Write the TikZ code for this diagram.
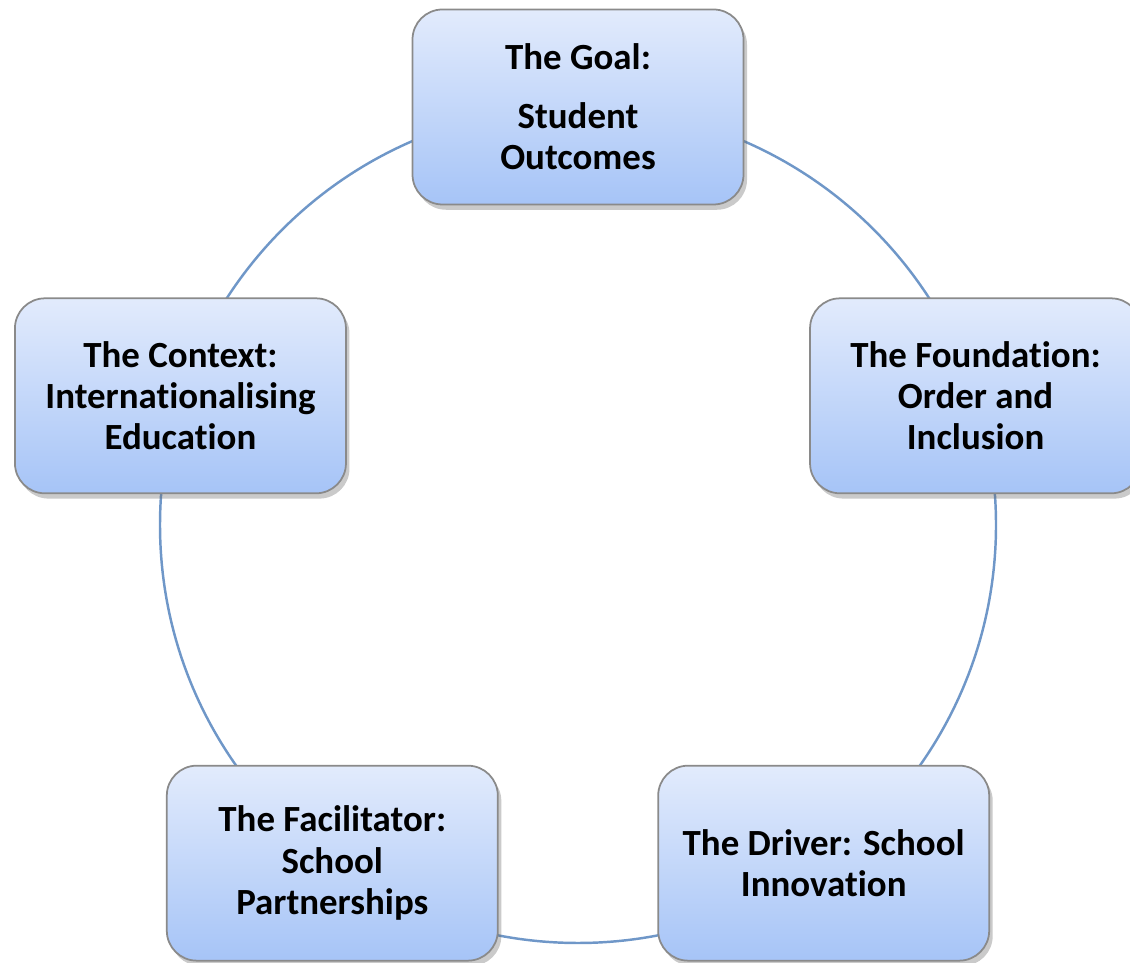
\documentclass[tikz,border=0pt]{standalone}
\usepackage{fontspec}
\setmainfont{Carlito}[RawFeature={-liga;-clig;-rlig;-calt;-dlig}]
\usepackage{xcolor}
\usetikzlibrary{positioning,calc,shadows}

\definecolor{ringblue}{HTML}{6F97C8}
\definecolor{boxtop}{HTML}{E2EBFC}
\definecolor{boxbottom}{HTML}{A6C4F7}
\definecolor{boxline}{HTML}{8A8A8A}

\tikzset{
    stage/.style={draw=boxline, line width=1pt, rounded corners=0.6cm,
        top color=boxtop, bottom color=boxbottom,
        minimum width=6.62cm, minimum height=3.9cm, align=center,
        font=\fontsize{21}{23.5}\selectfont\bfseries,
        drop shadow={shadow xshift=2pt, shadow yshift=-3pt, opacity=0.35, fill=black!60}},
    ring/.style={draw=ringblue, line width=1.4pt}
}

\begin{document}
\begin{tikzpicture}
    \useasboundingbox (0,0) rectangle (22.6,19.26);

    % Ring
    \coordinate (centre) at (11.56,8.76);
    \draw[ring] (centre) circle (8.36);

    % Stages
    \node[stage] (goal) at ($(centre)+(90:8.36)$) {The Goal:\\[10pt] Student\\ Outcomes};
    \node[stage] (foundation) at ($(centre)+(18:8.36)$) {The Foundation:\\ Order and\\ Inclusion};
    \node[stage] (driver) at ($(centre)+(-54:8.36)$) {The Driver: School\\ Innovation};
    \node[stage] (facilitator) at ($(centre)+(-126:8.36)$) {The Facilitator:\\ School\\ Partnerships};
    \node[stage] (context) at ($(centre)+(162:8.36)$) {The Context:\\ Internationalising\\ Education};

\end{tikzpicture}
\end{document}
